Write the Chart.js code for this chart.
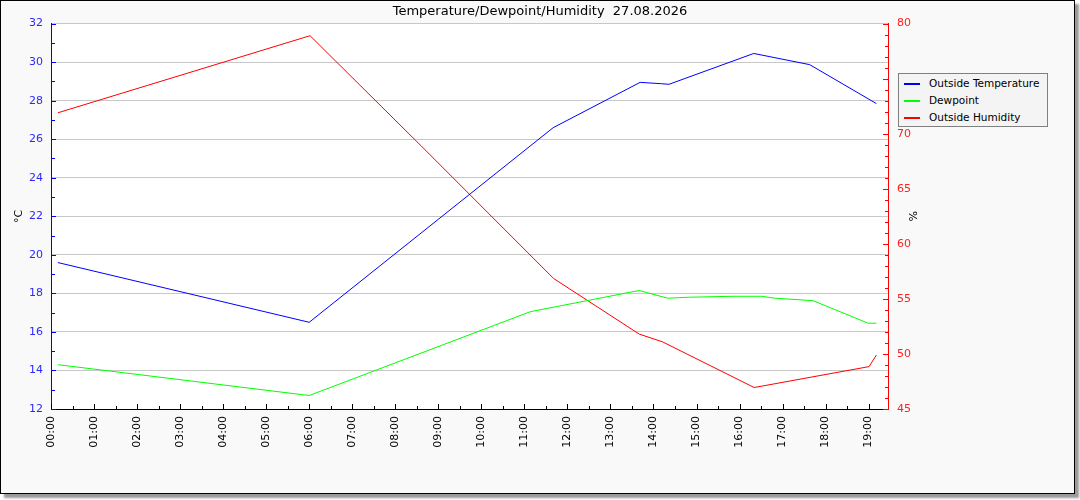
<!DOCTYPE html>
<html>
<head>
<meta charset="utf-8">
<script src="https://cdn.jsdelivr.net/npm/chart.js@4/dist/chart.umd.min.js"></script>
<style>
  html, body { margin: 0; padding: 0; background: #fff; }
  #frame {
    position: absolute; left: 0; top: 0;
    width: 1073px; height: 492px;
    border: 1px solid #000;
    background: #f9f9f9;
    box-shadow: 4px 4px 2px #9a9a9a;
  }
  #wrap { position: absolute; left: 0; top: 0; width: 1080px; height: 500px; }
  #legend {
    position: absolute; left: 898px; top: 73px;
    width: 148px; height: 52px;
    border: 1px solid #808080;
    background: #f4f4f4;
    font: 10.5px "DejaVu Sans", sans-serif;
    color: #000;
  }
  #legend div { position: relative; height: 17px; line-height: 17px; padding-left: 30px; white-space: nowrap; }
  #legend div:first-child { margin-top: 1px; }
  #legend span { position: absolute; left: 5px; top: 8px; width: 16px; height: 2px; }
</style>
</head>
<body>
<div id="frame"></div>
<div id="wrap"><canvas id="chart" width="1080" height="500"></canvas></div>
<div id="legend"></div>
<script>
// Zeiten in Stunden (dezimal)
const tempTimes = [0.16, 6.0, 11.67, 13.69, 14.19, 14.36, 16.33, 17.63, 19.18];
const tempValues = [19.6, 16.5, 26.6, 28.95, 28.88, 28.85, 30.45, 29.87, 27.85];

const dewTimes = [0.16, 6.0, 11.14, 13.67, 14.33, 14.83, 15.85, 16.51, 16.82, 17.17, 17.71, 18.99, 19.18];
const dewValues = [14.3, 12.7, 17.05, 18.15, 17.75, 17.8, 17.85, 17.85, 17.75, 17.7, 17.62, 16.45, 16.45];

const humTimes = [0.16, 6.02, 8.6, 11.68, 13.67, 14.21, 16.34, 19.01, 19.18];
const humValues = [71.9, 78.9, 68.9, 56.85, 51.8, 51.1, 46.95, 48.85, 49.9];

const hourTicks = [0, 1, 2, 3, 4, 5, 6, 7, 8, 9, 10, 11, 12, 13, 14, 15, 16, 17, 18, 19];
const seriesNames = ['Outside Temperature', 'Dewpoint', 'Outside Humidity'];
const seriesColors = ['#0000ff', '#00ff00', '#ff0000'];

function toPoints(times, values) {
    return times.map((t, i) => ({ x: t, y: values[i] }));
}

// kurze Striche nach innen, wie im Original
const innerTicks = {
    id: 'innerTicks',
    afterDraw(chart) {
        const ctx = chart.ctx;
        const s = chart.scales;
        ctx.save();
        ctx.lineWidth = 1;
        ctx.strokeStyle = '#000';
        for (let v = 0; v <= 19.4; v += 0.5) {
            const px = Math.round(s.x.getPixelForValue(v)) + 0.5;
            const len = v % 1 === 0 ? 5 : 3;
            ctx.beginPath(); ctx.moveTo(px, s.x.top); ctx.lineTo(px, s.x.top - len); ctx.stroke();
        }
        ctx.strokeStyle = '#0000ff';
        for (let v = 12; v <= 32; v++) {
            const py = Math.round(s.y.getPixelForValue(v)) + 0.5;
            const len = v % 2 === 0 ? 5 : 4;
            ctx.beginPath(); ctx.moveTo(s.y.right, py); ctx.lineTo(s.y.right + len, py); ctx.stroke();
        }
        ctx.strokeStyle = '#ff0000';
        for (let v = 45; v <= 80; v++) {
            const py = Math.round(s.y2.getPixelForValue(v)) + 0.5;
            const len = v % 5 === 0 ? 5 : 3;
            ctx.beginPath(); ctx.moveTo(s.y2.left, py); ctx.lineTo(s.y2.left - len, py); ctx.stroke();
        }
        ctx.restore();
    }
};

const plotBg = {
    id: 'plotBg',
    beforeDraw(chart) {
        const a = chart.chartArea;
        chart.ctx.save();
        chart.ctx.fillStyle = '#ffffff';
        chart.ctx.fillRect(a.left, a.top, a.right - a.left, a.bottom - a.top);
        chart.ctx.restore();
    }
};

const tickFont = { family: 'DejaVu Sans', size: 11 };

new Chart(document.getElementById('chart'), {
    type: 'line',
    data: {
        datasets: [
            { label: seriesNames[0], data: toPoints(tempTimes, tempValues), borderColor: seriesColors[0], yAxisID: 'y' },
            { label: seriesNames[1], data: toPoints(dewTimes, dewValues), borderColor: seriesColors[1], yAxisID: 'y' },
            { label: seriesNames[2], data: toPoints(humTimes, humValues), borderColor: seriesColors[2], yAxisID: 'y2' }
        ]
    },
    options: {
        responsive: false,
        animation: false,
        layout: { padding: 0 },
        elements: {
            line: { borderWidth: 1, tension: 0 },
            point: { radius: 0 }
        },
        plugins: {
            legend: { display: false },
            tooltip: { enabled: false },
            title: {
                display: true,
                text: 'Temperature/Dewpoint/Humidity  27.08.2026',
                color: '#000',
                font: { family: 'DejaVu Sans', size: 13, weight: 'normal' },
                lineHeight: 1.1,
                padding: { top: 4, bottom: 4 }
            }
        },
        scales: {
            x: {
                type: 'linear',
                min: 0,
                max: 19.45,
                afterBuildTicks: (scale) => { scale.ticks = hourTicks.map(v => ({ value: v })); },
                afterFit: (scale) => { scale.height = 91; },
                ticks: {
                    color: '#000',
                    font: tickFont,
                    minRotation: 90,
                    maxRotation: 90,
                    padding: 7,
                    autoSkip: false,
                    callback: (v) => String(v).padStart(2, '0') + ':00'
                },
                grid: { drawOnChartArea: false, drawTicks: false },
                border: { color: '#000', width: 1 }
            },
            y: {
                position: 'left',
                min: 12,
                max: 32,
                afterFit: (scale) => { scale.width = 51; },
                ticks: { stepSize: 2, color: '#2a2aff', font: tickFont, padding: 8 },
                grid: { color: '#c8c8c8', drawTicks: false },
                border: { color: '#0000ff', width: 1 },
                title: { display: true, text: '°C', color: '#000', font: tickFont, padding: { top: 13, bottom: 0 } }
            },
            y2: {
                position: 'right',
                min: 45,
                max: 80,
                // breite Achse, damit rechts Platz fuer die Legende bleibt
                afterFit: (scale) => { scale.width = 192; },
                ticks: { stepSize: 5, color: '#ff2020', font: tickFont, padding: 9 },
                grid: { drawOnChartArea: false, drawTicks: false },
                border: { color: '#ff0000', width: 1 },
                title: { display: true, text: '%', color: '#000', font: tickFont, padding: { top: 162, bottom: 0 } }
            }
        }
    },
    plugins: [plotBg, innerTicks]
});

// Legende mit Rahmen rechts neben dem Diagramm
const legendEl = document.getElementById('legend');
legendEl.innerHTML = seriesNames.map((n, i) => `<div><span style="background:${seriesColors[i]}"></span>${n}</div>`).join('');
</script>
</body>
</html>
